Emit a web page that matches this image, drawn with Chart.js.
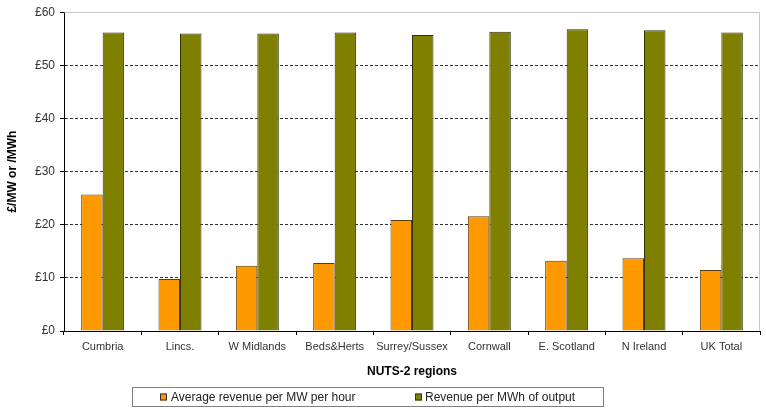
<!DOCTYPE html>
<html>
<head>
<meta charset="utf-8">
<script src="https://cdn.jsdelivr.net/npm/chart.js@4"></script>
<style>
  html, body { margin: 0; padding: 0; background: #fff; }
  #wrap { width: 766px; height: 409px; position: relative; }
</style>
</head>
<body>
<div id="wrap"><canvas id="c" width="766" height="409"></canvas></div>
<script>
// Regions and revenue figures (£)
const regions = ['Cumbria', 'Lincs.', 'W Midlands', 'Beds&Herts', 'Surrey/Sussex', 'Cornwall', 'E. Scotland', 'N Ireland', 'UK Total'];
const revenuePerMWHour = [25.7, 9.8, 12.3, 12.8, 20.9, 21.6, 13.2, 13.7, 11.5];
const revenuePerMWhOutput = [56.2, 56.0, 56.0, 56.2, 55.7, 56.3, 56.8, 56.6, 56.2];
const seriesNames = ['Average revenue per MW per hour', 'Revenue per MWh of output'];
const yTicks = [0, 10, 20, 30, 40, 50, 60];

const FONT = 'Arial, "Liberation Sans", sans-serif';

// Light grey frame on the top and right of the plot area
const frame = {
  id: 'frame',
  beforeDatasetsDraw(chart) {
    const { ctx, chartArea: a } = chart;
    ctx.save();
    ctx.strokeStyle = '#c8c8c8';
    ctx.lineWidth = 1;
    ctx.setLineDash([]);
    ctx.beginPath();
    ctx.moveTo(Math.round(a.left) + 0.5, Math.round(a.top) + 0.5);
    ctx.lineTo(Math.round(a.right) - 0.5, Math.round(a.top) + 0.5);
    ctx.lineTo(Math.round(a.right) - 0.5, Math.round(a.bottom));
    ctx.stroke();
    ctx.restore();
  }
};

// Boxed legend underneath the axis title
const boxedLegend = {
  id: 'boxedLegend',
  afterDraw(chart) {
    const { ctx } = chart;
    const box = { x: 132.5, y: 387.5, w: 471, h: 19 };
    const items = [{ sq: 160, tx: 171 }, { sq: 415, tx: 425 }];
    ctx.save();
    ctx.setLineDash([]);
    ctx.strokeStyle = '#808080';
    ctx.lineWidth = 1;
    ctx.strokeRect(box.x, box.y, box.w, box.h);
    ctx.font = '12px ' + FONT;
    ctx.textBaseline = 'middle';
    ctx.textAlign = 'left';
    const cy = box.y + box.h / 2;
    chart.data.datasets.forEach((ds, i) => {
      const it = items[i];
      ctx.fillStyle = ds.backgroundColor;
      ctx.fillRect(it.sq, cy - 3.5, 7, 7);
      ctx.strokeStyle = '#333';
      ctx.strokeRect(it.sq + 0.5, cy - 3.5 + 0.5, 6, 6);
      ctx.fillStyle = '#222';
      ctx.fillText(ds.label, it.tx, cy + 0.5);
    });
    ctx.restore();
  }
};

new Chart(document.getElementById('c'), {
  type: 'bar',
  data: {
    labels: regions,
    datasets: [
      {
        label: seriesNames[0],
        data: revenuePerMWHour,
        backgroundColor: '#FF9900',
        borderColor: '#5a3d14',
        borderWidth: 1,
        categoryPercentage: 0.556,
        barPercentage: 1.0
      },
      {
        label: seriesNames[1],
        data: revenuePerMWhOutput,
        backgroundColor: '#808000',
        borderColor: '#2e2e10',
        borderWidth: 1,
        categoryPercentage: 0.556,
        barPercentage: 1.0
      }
    ]
  },
  options: {
    responsive: false,
    animation: false,
    devicePixelRatio: 1,
    layout: { padding: { left: 0, right: 6, top: 12, bottom: 30 } },
    plugins: {
      legend: { display: false },
      tooltip: { enabled: false }
    },
    scales: {
      x: {
        afterFit(scale) { scale.height = 48; },
        grid: {
          offset: true,
          drawOnChartArea: false,
          drawTicks: true,
          tickLength: 4,
          tickColor: '#000'
        },
        border: { display: true, color: '#000', width: 1 },
        ticks: {
          padding: 5,
          color: '#333',
          font: { family: FONT, size: 11 },
          maxRotation: 0,
          autoSkip: false
        },
        title: {
          display: true,
          text: 'NUTS-2 regions',
          color: '#000',
          font: { family: FONT, size: 12, weight: 'bold' },
          padding: { top: 1, bottom: 0 }
        }
      },
      y: {
        min: 0,
        max: 60,
        afterFit(scale) { scale.width = 64; },
        afterBuildTicks(scale) { scale.ticks = yTicks.map(v => ({ value: v })); },
        grid: {
          color(ctx) {
            const v = ctx.tick && ctx.tick.value;
            return (v === 0 || v === 60) ? 'rgba(0,0,0,0)' : '#333';
          },
          drawTicks: true,
          tickLength: 4,
          tickColor: '#000',
          tickBorderDash: []
        },
        border: { display: true, color: '#000', width: 1, dash: [3, 2] },
        ticks: {
          padding: 5,
          color: '#333',
          font: { family: FONT, size: 12 },
          callback: v => '£' + v
        },
        title: {
          display: true,
          text: '£/MW or /MWh',
          color: '#000',
          font: { family: FONT, size: 12, weight: 'bold' },
          padding: { top: 5, bottom: 0 }
        }
      }
    }
  },
  plugins: [frame, boxedLegend]
});
</script>
</body>
</html>
